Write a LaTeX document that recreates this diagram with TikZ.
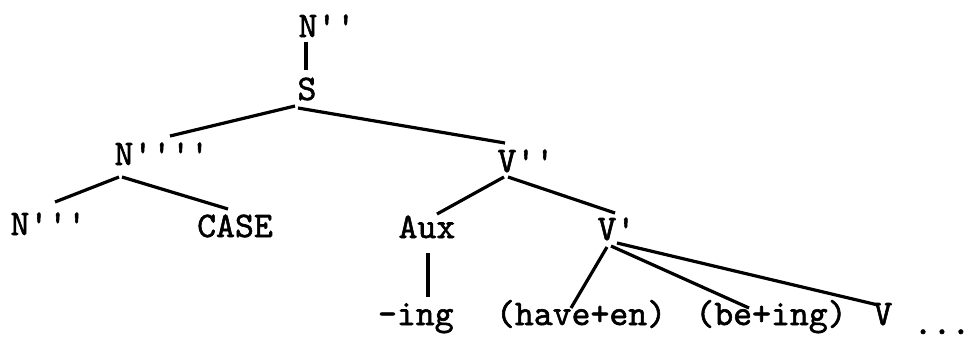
\documentclass[tikz,border=0pt]{standalone}
\usepackage{fontspec}
\newfontfamily\twfont{lmmono10-regular.otf}[FakeBold=1.6]
\newcommand{\pr}{\textquotesingle}
\tikzset{
  lab/.style={anchor=base west, inner sep=0pt, outer sep=0pt,
    font=\twfont\fontsize{36}{40}\selectfont},
  edge/.style={line width=3.2pt}
}
\begin{document}
\begin{tikzpicture}[x=1pt,y=-1pt]
\fill[white] (0,0) rectangle (971,341);
\useasboundingbox (0,0) rectangle (971,341);
% nodes
\node[lab] (npp)  at (298.5,37)  {N\pr\pr};
\node[lab] (s)    at (297.5,100) {S};
\node[lab] (n4)   at (114.5,165) {N\pr\pr\pr\pr};
\node[lab] (vpp)  at (497.5,172) {V\pr\pr};
\node[lab] (n3)   at (10.5,235)  {N\pr\pr\pr};
\node[lab] (case) at (197.2,237) {CASE};
\node[lab] (aux)  at (398.6,238) {Aux};
\node[lab] (vp)   at (597.5,240) {V\pr};
\node[lab] (ing)  at (378,325)   {-ing};
\node[lab] (have) at (496,325)   {(have+en)};
\node[lab] (be)   at (695.4,325) {(be+ing)};
\node[lab] (v)    at (873.5,325) {V};
\node[lab] (dots) at (913.6,334) {...};
% connectors
\draw[edge] ([shift={(7.5,5)}]npp.base west) -- ([shift={(8.5,-30)}]s.base west);
\draw[edge] ([shift={(-2.5,6)}]s.base west) -- ([shift={(55.5,-29)}]n4.base west);
\draw[edge] ([shift={(0.5,8)}]s.base west) -- ([shift={(7.5,-29)}]vpp.base west);
\draw[edge] ([shift={(4.5,12)}]n4.base west) -- ([shift={(44.5,-33)}]n3.base west);
\draw[edge] ([shift={(7.5,12)}]n4.base west) -- ([shift={(30.8,-28)}]case.base west);
\draw[edge] ([shift={(6.5,5)}]vpp.base west) -- ([shift={(38.4,-24)}]aux.base west);
\draw[edge] ([shift={(10.5,5)}]vpp.base west) -- ([shift={(17.5,-27)}]vp.base west);
\draw[edge] ([shift={(29.4,15)}]aux.base west) -- ([shift={(50,-28)}]ing.base west);
\draw[edge] ([shift={(9.5,7)}]vp.base west) -- ([shift={(75,-17)}]have.base west);
\draw[edge] ([shift={(13.5,6)}]vp.base west) -- ([shift={(53.6,-17)}]be.base west);
\draw[edge] ([shift={(19.5,3)}]vp.base west) -- ([shift={(4.5,-20)}]v.base west);
\end{tikzpicture}
\end{document}
